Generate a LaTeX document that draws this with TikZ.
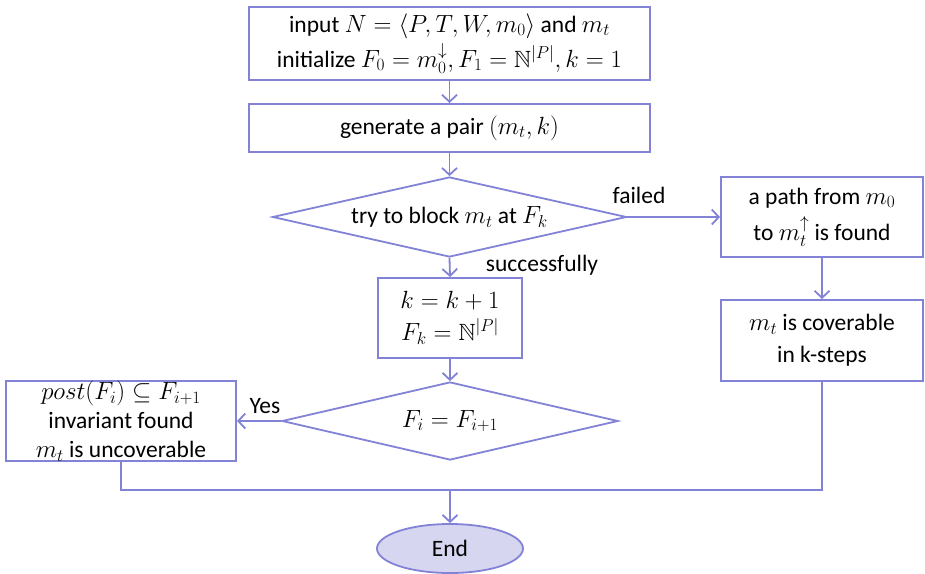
\documentclass[tikz,border=0pt]{standalone}
\usepackage{amsmath,amssymb}
\usepackage[no-math]{fontspec}
\setmainfont{Carlito}
\usetikzlibrary{arrows.meta,shapes.geometric}
\definecolor{lc}{RGB}{130,130,214}
\definecolor{ef}{RGB}{214,214,240}
\tikzset{
  box/.style={draw=lc,line width=2pt,rectangle,align=center,inner sep=0pt,font=\fontsize{23.5}{32}\selectfont},
  dia/.style={draw=lc,line width=1.8pt,diamond,align=center,inner sep=0pt,font=\fontsize{23.5}{30}\selectfont},
  conn/.style={draw=lc,line width=1.8pt},
  arr/.style={conn,-{Straight Barb[length=7pt,width=15pt,line width=1.8pt]}},
  lab/.style={font=\fontsize{23.5}{28}\selectfont,inner sep=0pt}
}
\begin{document}
\begin{tikzpicture}[x=1pt,y=-1pt]
\useasboundingbox (0,0) rectangle (925,573);
\node[box,minimum width=401pt,minimum height=73pt,font=\fontsize{23.5}{35}\selectfont] (b1) at (449.5,43.5)
  {input $N=\langle P,T,W,m_0\rangle$ and $m_t$\\ initialize $F_0=m_0^{\downarrow},F_1=\mathbb{N}^{|P|},k=1$};
\node[box,minimum width=401pt,minimum height=48pt] (b2) at (449.5,128)
  {generate a pair $(m_t,k)$};
\node[dia,minimum width=354pt,minimum height=80pt,aspect=4.4] (d1) at (449.5,217)
  {try to block $m_t$ at $F_k$};
\node[box,minimum width=144pt,minimum height=80pt] (bk) at (450,318)
  {$k=k+1$\\ $F_k=\mathbb{N}^{|P|}$};
\node[dia,minimum width=336pt,minimum height=78pt,aspect=4.3] (d2) at (450,421)
  {$F_i=F_{i+1}$};
\node[box,minimum width=230pt,minimum height=80pt,font=\fontsize{23.5}{29}\selectfont] (lb) at (121,421)
  {$post(F_i)\subseteq F_{i+1}$\\ invariant found\\ $m_t$ is uncoverable};
\node[box,minimum width=202pt,minimum height=80pt,font=\fontsize{23.5}{36}\selectfont] (r1) at (822,217)
  {a path from $m_0$\\ to $m_t^{\uparrow}$ is found};
\node[box,minimum width=202pt,minimum height=81pt] (r2) at (822,340.5)
  {$m_t$ is coverable\\ in k-steps};
\node[draw=lc,fill=ef,line width=1.8pt,ellipse,minimum width=146pt,minimum height=49pt,inner sep=0pt,font=\fontsize{23.5}{28}\selectfont] (end) at (450,548.5) {End};
\coordinate (jr) at (r2.south |- 0,490);
\coordinate (jl) at (lb.south |- 0,490);
\coordinate (jm) at (end.north |- 0,490);
\draw[arr] (b1.south) -- (b2.north);
\draw[arr] (b2.south) -- (d1.north);
\draw[arr] (d1.east) -- (r1.west);
\draw[arr] (d1.south) -- (bk.north);
\draw[arr] (bk.south) -- (d2.north);
\draw[arr] (d2.west) -- (lb.east);
\draw[arr] (r1.south) -- (r2.north);
\draw[conn] (r2.south) -- (jr) -- (jl) -- (lb.south);
\draw[arr] (jm) -- (end.north);
\node[lab] (lf) at (639,195) {failed};
\node[lab] (ls) at (542,265) {successfully};
\node[lab] (ly) at (265,406) {Yes};
\end{tikzpicture}
\end{document}
